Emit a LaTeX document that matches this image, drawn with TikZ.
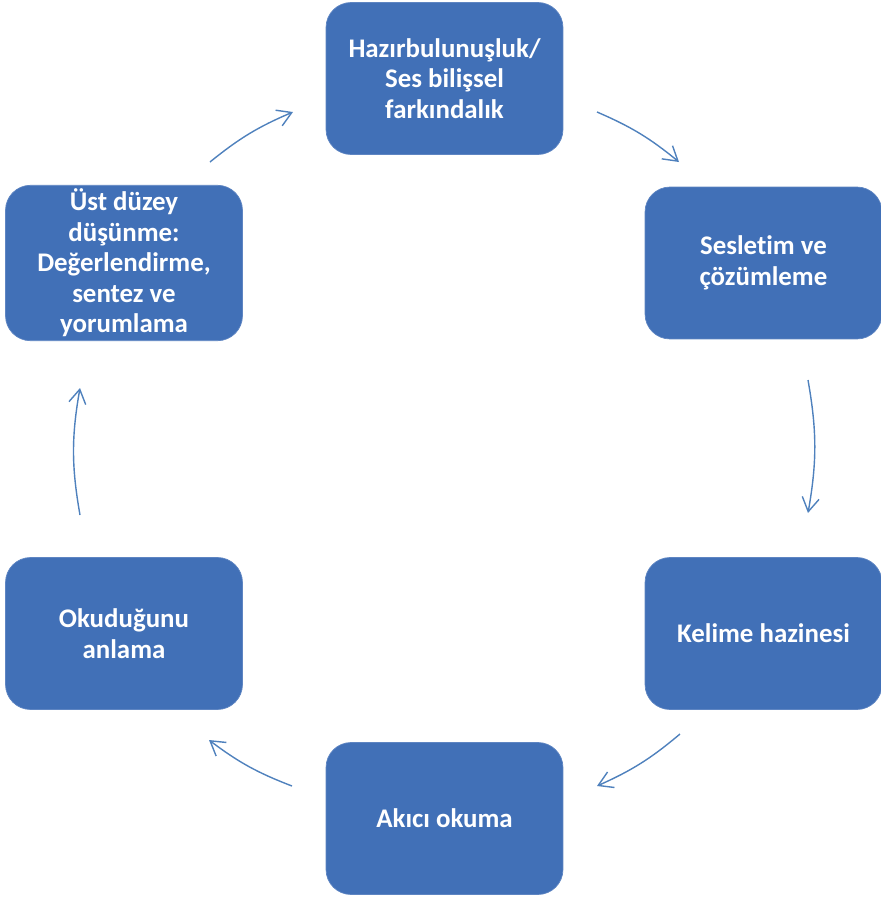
\documentclass[tikz,border=0pt]{standalone}
\usepackage{fontspec}
\setmainfont{Carlito}[Ligatures=NoCommon]
\usepackage{xcolor}
\usepackage{tikz}
\usetikzlibrary{arrows.meta}
\definecolor{boxblue}{RGB}{65,112,183}
\definecolor{lineblue}{RGB}{79,129,189}

\begin{document}
\begin{tikzpicture}[
  x=0.02cm, y=-0.02cm,
  stage/.style={rectangle,rounded corners=0.5cm,fill=boxblue,draw=boxblue!85!white,thin,
    minimum width=4.74cm,minimum height=3.04cm,inner sep=2pt,align=center,
    text=white,font=\fontsize{15.3pt}{17.4pt}\selectfont\bfseries},
  flow/.style={-{Straight Barb[length=2.8mm,width=3.4mm]},draw=lineblue,line width=0.8pt}
]
  \useasboundingbox (0,0) rectangle (881,900);

  \node[stage] (ready)  at (444.5,78.5)  {Hazırbulunuşluk/\\Ses bilişsel\\farkındalık};
  \node[stage] (decode) at (763.5,263)   {Sesletim ve\\çözümleme};
  \node[stage] (vocab)  at (763.5,633.5) {Kelime hazinesi};
  \node[stage] (fluent) at (444.5,818.5) {Akıcı okuma};
  \node[stage] (comp)   at (124,633.5)   {Okuduğunu\\anlama};
  \node[stage] (higher) at (124,263)     {Üst düzey\\düşünme:\\Değerlendirme,\\sentez ve\\yorumlama};

  \coordinate (higher-out) at (210,162);
  \coordinate (ready-in)   at (293,112);
  \coordinate (ready-out)  at (597,112);
  \coordinate (decode-in)  at (679,162);
  \coordinate (decode-out) at (808,380);
  \coordinate (vocab-in)   at (808,513);
  \coordinate (vocab-out)  at (680,734);
  \coordinate (fluent-in)  at (597,786);
  \coordinate (fluent-out) at (292,786);
  \coordinate (comp-in)    at (209,740);
  \coordinate (comp-out)   at (80,515);
  \coordinate (higher-in)  at (80,388);

  \draw[flow] (higher-out) to[bend left=8] (ready-in);
  \draw[flow] (ready-out) to[bend left=8] (decode-in);
  \draw[flow] (decode-out) to[bend left=10] (vocab-in);
  \draw[flow] (vocab-out) to[bend left=8] (fluent-in);
  \draw[flow] (fluent-out) to[bend left=8] (comp-in);
  \draw[flow] (comp-out) to[bend left=10] (higher-in);
\end{tikzpicture}
\end{document}
